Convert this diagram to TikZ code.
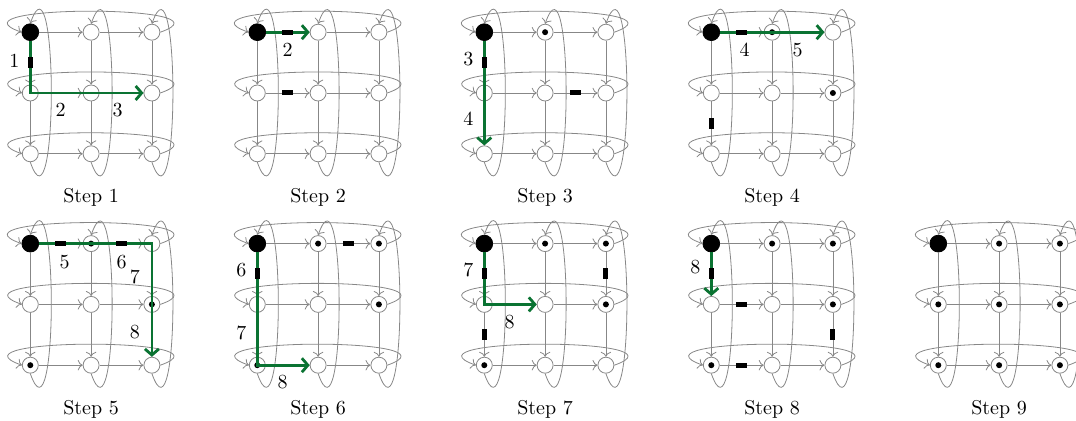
\documentclass[tikz,border=0pt]{standalone}
\usetikzlibrary{arrows.meta,calc}
\definecolor{gridgray}{RGB}{135,135,135}
\definecolor{pathgreen}{RGB}{10,115,50}
\tikzset{
  vtx/.style={circle, draw=gridgray, fill=white, line width=0.4pt, minimum size=8pt, inner sep=0pt},
  dvtx/.style={vtx, path picture={\fill[black] (path picture bounding box.center) circle (1.5pt);}},
  rootv/.style={circle, fill=black, draw=black, line width=0.4pt, minimum size=8.4pt, inner sep=0pt},
  gedge/.style={draw=gridgray, line width=0.4pt, ->},
  gpath/.style={draw=pathgreen, line width=1.4pt, -{Straight Barb[length=3pt,width=7pt]}},
  hdash/.style={fill=black, minimum width=5.5pt, minimum height=2.5pt, inner sep=0pt},
  vdash/.style={fill=black, minimum width=2.5pt, minimum height=5.5pt, inner sep=0pt},
  numlbl/.style={inner sep=0pt},
  steplbl/.style={inner sep=0pt},
}
% #1 x0, #2 y0, #3 prefix, #4 list c/r/style
\newcommand\gridpanel[4]{%
  \foreach \c/\r/\s in {#4}{
    \node[\s] (#3-\c-\r) at ({#1+60.8*\c},{#2+60.8*\r}) {};
  }
  \foreach \r in {0,1,2}{
    \draw[gedge] (#3-0-\r) -- (#3-1-\r);
    \draw[gedge] (#3-1-\r) -- (#3-2-\r);
    \draw[gedge] (#3-2-\r.east) .. controls +(80,-28) and +(-80,-28) .. (#3-0-\r.west);
  }
  \foreach \c in {0,1,2}{
    \draw[gedge] (#3-\c-0) -- (#3-\c-1);
    \draw[gedge] (#3-\c-1) -- (#3-\c-2);
    \draw[gedge] (#3-\c-2.south) .. controls +(28,80) and +(28,-80) .. (#3-\c-0.north);
  }
}
\begin{document}
\begin{tikzpicture}[x=0.5pt,y=-0.5pt]
\useasboundingbox (0,0) rectangle (1076,421);
\clip (0,0) rectangle (1076,421);

% ---------- Step 1 ----------
\gridpanel{30.3}{32.2}{pa}{0/0/rootv,1/0/vtx,2/0/vtx,0/1/vtx,1/1/vtx,2/1/vtx,0/2/vtx,1/2/vtx,2/2/vtx}
\draw[gpath] (pa-0-0) -- (pa-0-1.center) -- (pa-2-1);
\node[vdash] (pa-d1) at ($(pa-0-0)!.5!(pa-0-1)$) {};
\node[numlbl] (pa-l1) at ($(pa-0-0)!.5!(pa-0-1)+(-16,-2)$) {1};
\node[numlbl] (pa-l2) at ($(pa-0-1)!.5!(pa-1-1)+(0,17)$) {2};
\node[numlbl] (pa-l3) at ($(pa-1-1)!.5!(pa-2-1)+(-4,17)$) {3};
\node[steplbl] (pa-t) at ($(pa-1-2)+(0,44)$) {Step 1};

% ---------- Step 2 ----------
\gridpanel{257.3}{32.2}{pb}{0/0/rootv,1/0/vtx,2/0/vtx,0/1/vtx,1/1/vtx,2/1/vtx,0/2/vtx,1/2/vtx,2/2/vtx}
\draw[gpath] (pb-0-0) -- (pb-1-0);
\node[hdash] (pb-d1) at ($(pb-0-0)!.5!(pb-1-0)$) {};
\node[hdash] (pb-d2) at ($(pb-0-1)!.5!(pb-1-1)$) {};
\node[numlbl] (pb-l1) at ($(pb-0-0)!.5!(pb-1-0)+(0,18)$) {2};
\node[steplbl] (pb-t) at ($(pb-1-2)+(0,44)$) {Step 2};

% ---------- Step 3 ----------
\gridpanel{484.3}{32.2}{pc}{0/0/rootv,1/0/dvtx,2/0/vtx,0/1/vtx,1/1/vtx,2/1/vtx,0/2/vtx,1/2/vtx,2/2/vtx}
\draw[gpath] (pc-0-0) -- (pc-0-2);
\node[vdash] (pc-d1) at ($(pc-0-0)!.5!(pc-0-1)$) {};
\node[hdash] (pc-d2) at ($(pc-1-1)!.5!(pc-2-1)$) {};
\node[numlbl] (pc-l1) at ($(pc-0-0)!.5!(pc-0-1)+(-16,-4)$) {3};
\node[numlbl] (pc-l2) at ($(pc-0-1)!.5!(pc-0-2)+(-16,-5)$) {4};
\node[steplbl] (pc-t) at ($(pc-1-2)+(0,44)$) {Step 3};

% ---------- Step 4 ----------
\gridpanel{711.3}{32.2}{pd}{0/0/rootv,1/0/dvtx,2/0/vtx,0/1/vtx,1/1/vtx,2/1/dvtx,0/2/vtx,1/2/vtx,2/2/vtx}
\draw[gpath] (pd-0-0) -- (pd-2-0);
\node[hdash] (pd-d1) at ($(pd-0-0)!.5!(pd-1-0)$) {};
\node[vdash] (pd-d2) at ($(pd-0-1)!.5!(pd-0-2)$) {};
\node[numlbl] (pd-l1) at ($(pd-0-0)!.5!(pd-1-0)+(3,18)$) {4};
\node[numlbl] (pd-l2) at ($(pd-1-0)!.5!(pd-2-0)+(-5,18)$) {5};
\node[steplbl] (pd-t) at ($(pd-1-2)+(0,44)$) {Step 4};

% ---------- Step 5 ----------
\gridpanel{30.3}{243.6}{pe}{0/0/rootv,1/0/dvtx,2/0/vtx,0/1/vtx,1/1/vtx,2/1/dvtx,0/2/dvtx,1/2/vtx,2/2/vtx}
\draw[gpath] (pe-0-0) -- (pe-2-0.center) -- (pe-2-2);
\node[hdash] (pe-d1) at ($(pe-0-0)!.5!(pe-1-0)$) {};
\node[hdash] (pe-d2) at ($(pe-1-0)!.5!(pe-2-0)$) {};
\node[numlbl] (pe-l1) at ($(pe-0-0)!.5!(pe-1-0)+(4,18)$) {5};
\node[numlbl] (pe-l2) at ($(pe-1-0)!.5!(pe-2-0)+(0,18)$) {6};
\node[numlbl] (pe-l3) at ($(pe-2-0)!.5!(pe-2-1)+(-17,3)$) {7};
\node[numlbl] (pe-l4) at ($(pe-2-1)!.5!(pe-2-2)+(-17,-3)$) {8};
\node[steplbl] (pe-t) at ($(pe-1-2)+(0,44)$) {Step 5};

% ---------- Step 6 ----------
\gridpanel{257.3}{243.6}{pf}{0/0/rootv,1/0/dvtx,2/0/dvtx,0/1/vtx,1/1/vtx,2/1/dvtx,0/2/dvtx,1/2/vtx,2/2/vtx}
\draw[gpath] (pf-0-0) -- (pf-0-2.center) -- (pf-1-2);
\node[vdash] (pf-d1) at ($(pf-0-0)!.5!(pf-0-1)$) {};
\node[hdash] (pf-d2) at ($(pf-1-0)!.5!(pf-2-0)$) {};
\node[numlbl] (pf-l1) at ($(pf-0-0)!.5!(pf-0-1)+(-16,-4)$) {6};
\node[numlbl] (pf-l2) at ($(pf-0-1)!.5!(pf-0-2)+(-16,-2)$) {7};
\node[numlbl] (pf-l3) at ($(pf-0-2)!.5!(pf-1-2)+(-5,17)$) {8};
\node[steplbl] (pf-t) at ($(pf-1-2)+(0,44)$) {Step 6};

% ---------- Step 7 ----------
\gridpanel{484.3}{243.6}{pg}{0/0/rootv,1/0/dvtx,2/0/dvtx,0/1/vtx,1/1/vtx,2/1/dvtx,0/2/dvtx,1/2/vtx,2/2/vtx}
\draw[gpath] (pg-0-0) -- (pg-0-1.center) -- (pg-1-1);
\node[vdash] (pg-d1) at ($(pg-0-0)!.5!(pg-0-1)$) {};
\node[vdash] (pg-d2) at ($(pg-2-0)!.5!(pg-2-1)$) {};
\node[vdash] (pg-d3) at ($(pg-0-1)!.5!(pg-0-2)$) {};
\node[numlbl] (pg-l1) at ($(pg-0-0)!.5!(pg-0-1)+(-16,-4)$) {7};
\node[numlbl] (pg-l2) at ($(pg-0-1)!.5!(pg-1-1)+(-5,18)$) {8};
\node[steplbl] (pg-t) at ($(pg-1-2)+(0,44)$) {Step 7};

% ---------- Step 8 ----------
\gridpanel{711.3}{243.6}{ph}{0/0/rootv,1/0/dvtx,2/0/dvtx,0/1/vtx,1/1/vtx,2/1/dvtx,0/2/dvtx,1/2/vtx,2/2/vtx}
\draw[gpath] (ph-0-0) -- (ph-0-1);
\node[vdash] (ph-d1) at ($(ph-0-0)!.5!(ph-0-1)$) {};
\node[hdash] (ph-d2) at ($(ph-0-1)!.5!(ph-1-1)$) {};
\node[vdash] (ph-d3) at ($(ph-2-1)!.5!(ph-2-2)$) {};
\node[hdash] (ph-d4) at ($(ph-0-2)!.5!(ph-1-2)$) {};
\node[numlbl] (ph-l1) at ($(ph-0-0)!.5!(ph-0-1)+(-16,-7)$) {8};
\node[steplbl] (ph-t) at ($(ph-1-2)+(0,44)$) {Step 8};

% ---------- Step 9 ----------
\gridpanel{938.3}{243.6}{pi}{0/0/rootv,1/0/dvtx,2/0/dvtx,0/1/dvtx,1/1/dvtx,2/1/dvtx,0/2/dvtx,1/2/dvtx,2/2/dvtx}
\node[steplbl] (pi-t) at ($(pi-1-2)+(0,44)$) {Step 9};
\end{tikzpicture}
\end{document}
